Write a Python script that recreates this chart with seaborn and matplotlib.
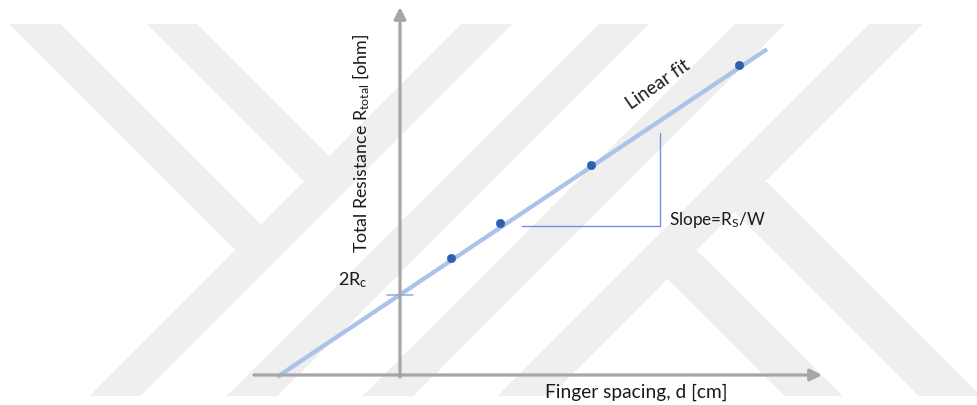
import numpy as np
import pandas as pd
import matplotlib
matplotlib.use("Agg")
import matplotlib.pyplot as plt
import seaborn as sns

# measured points (finger spacing d, total resistance)
spacing_d = [1.02, 2.01, 3.83, 6.79]
total_r = [2.34, 3.05, 4.21, 6.20]

# linear fit drawn through the points
fit_intercept = 1.606   # = 2Rc
fit_slope = 0.669       # = Rs/W
fit_range = (-2.46, 7.34)

# slope triangle
tri_left_d = 2.45
tri_corner_d = 5.21
tri_base_r = 2.99
tri_top_r = 4.85

# axis extents
x_axis_range = (-2.92, 8.44)
y_axis_top = 7.36

# background watermark bands (pixel space, x+y and x-y stripes)
wm_diag_up = [(487, 537), (624, 674), (760, 810), (895, 947)]
wm_arms_left = [(-15, 35), (122, 172)]
wm_arms_right = [(388, 445), (522, 583)]

sns.set_theme(style="white")
plt.rcParams["font.family"] = ["Lato", "DejaVu Sans"]
plt.rcParams["mathtext.default"] = "regular"

AXIS_GRAY = "#a6a6a6"
FIT_BLUE = "#a9c4eb"
DOT_BLUE = "#2f5faf"
TRI_BLUE = "#7393d6"
TEXT = "#1a1a1a"

fig = plt.figure(figsize=(9.78, 4.06), dpi=100)

# watermark
bg = fig.add_axes([0, 0, 1, 1], zorder=0)
H, W = 406, 978
yy, xx = np.mgrid[0:H, 0:W] + 0.5
s = xx + yy
d = xx - yy
mask = np.zeros((H, W), dtype=bool)
for lo, hi in wm_diag_up:
    mask |= (s >= lo) & (s <= hi)
for lo, hi in wm_arms_left:
    mask |= (d >= lo) & (d <= hi) & (s < wm_diag_up[0][0])
for lo, hi in wm_arms_right:
    mask |= (d >= lo) & (d <= hi) & (s > wm_diag_up[-1][1])
mask &= (yy >= 25) & (yy <= 397)
img = np.ones((H, W, 3))
img[mask] = 239 / 255
bg.imshow(img, extent=(0, W, H, 0), interpolation="bilinear", aspect="auto")
bg.set_xlim(0, W)
bg.set_ylim(H, 0)
bg.axis("off")

ax = fig.add_axes([0, 0, 1, 1], zorder=1)
ax.patch.set_alpha(0)
ax.set_xlim(-8, 11.56)
ax.set_ylim(-0.6, 7.52)
ax.axis("off")

# axes with arrow heads
arrow = dict(
    arrowstyle="-|>,head_length=0.7,head_width=0.35",
    color=AXIS_GRAY,
    lw=2.3,
    shrinkA=0,
    shrinkB=0,
    mutation_scale=10,
)
ax.annotate("", xy=(x_axis_range[1], 0), xytext=(x_axis_range[0], 0), arrowprops=arrow)
ax.annotate("", xy=(0, y_axis_top), xytext=(0, -0.04), arrowprops=arrow)

# linear fit
fit_df = pd.DataFrame({"d": list(fit_range)})
fit_df["R"] = fit_intercept + fit_slope * fit_df["d"]
sns.lineplot(
    data=fit_df,
    x="d",
    y="R",
    color=FIT_BLUE,
    lw=3.1,
    ax=ax,
    solid_capstyle="butt",
)

# intercept tick
ax.plot([-0.26, 0.26], [fit_intercept, fit_intercept], color="#8eaadb", lw=1.1)

# data points
pts = pd.DataFrame({"d": spacing_d, "R": total_r})
sns.scatterplot(
    data=pts,
    x="d",
    y="R",
    s=38,
    color=DOT_BLUE,
    edgecolor=DOT_BLUE,
    linewidth=0.3,
    ax=ax,
    zorder=3,
)

# slope triangle
ax.plot(
    [tri_left_d, tri_corner_d, tri_corner_d],
    [tri_base_r, tri_base_r, tri_top_r],
    color=TRI_BLUE,
    lw=1.0,
)

ax.text(5.38, 3.02, "Slope=R$_S$/W", fontsize=12.3, color=TEXT, ha="left", va="baseline")
ax.text(
    5.16, 5.82, "Linear fit",
    fontsize=13.5, color=TEXT, ha="center", va="center",
    rotation=np.degrees(np.arctan(fit_slope)) + 1,
)
ax.text(-0.64, 1.82, "2R$_c$", fontsize=13, color=TEXT, ha="right", va="baseline")
ax.text(
    -0.78, 4.66, "Total Resistance R$_{total}$ [ohm]",
    fontsize=12.8, color=TEXT, ha="center", va="center", rotation=90,
)
ax.text(2.9, -0.44, "Finger spacing, d [cm]", fontsize=13.8, color=TEXT, ha="left", va="baseline")

ax.set_xlabel("")
ax.set_ylabel("")

fig.savefig("out.png", dpi=100)
plt.close(fig)
